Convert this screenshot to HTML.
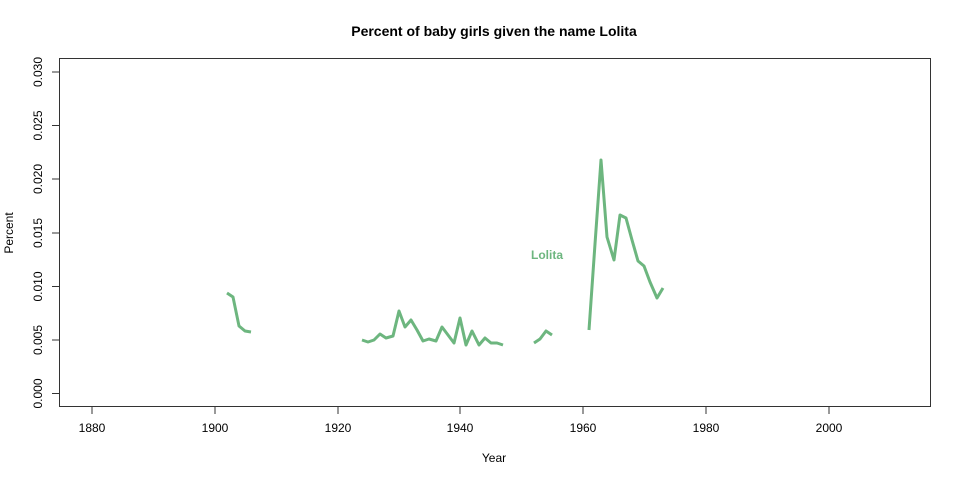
<!DOCTYPE html>
<html><head><style>body{margin:0;background:#fff}svg{display:block}text{font-family:"Liberation Sans",Arial,sans-serif}</style></head>
<body>
<svg width="960" height="480" xmlns="http://www.w3.org/2000/svg">
<text x="494" y="36" text-anchor="middle" font-size="14" font-weight="bold">Percent of baby girls given the name Lolita</text>
<rect x="59.5" y="58.5" width="871" height="348" fill="none" stroke="#333" stroke-width="1"/>
<g stroke="#333" stroke-width="1">
<line x1="92" y1="407" x2="92" y2="414"/><line x1="215" y1="407" x2="215" y2="414"/><line x1="338" y1="407" x2="338" y2="414"/><line x1="460" y1="407" x2="460" y2="414"/><line x1="583" y1="407" x2="583" y2="414"/><line x1="706" y1="407" x2="706" y2="414"/><line x1="829" y1="407" x2="829" y2="414"/>
<line x1="52" y1="393.5" x2="59" y2="393.5"/><line x1="52" y1="340" x2="59" y2="340"/><line x1="52" y1="286.5" x2="59" y2="286.5"/><line x1="52" y1="233" x2="59" y2="233"/><line x1="52" y1="179" x2="59" y2="179"/><line x1="52" y1="125.5" x2="59" y2="125.5"/><line x1="52" y1="72" x2="59" y2="72"/>
</g>
<g font-size="12" text-anchor="middle">
<text x="92" y="432">1880</text><text x="215" y="432">1900</text><text x="338" y="432">1920</text><text x="460" y="432">1940</text><text x="583" y="432">1960</text><text x="706" y="432">1980</text><text x="829" y="432">2000</text>
<text x="494" y="462">Year</text>
<text transform="translate(42,393.5) rotate(-90)">0.000</text>
<text transform="translate(42,340) rotate(-90)">0.005</text>
<text transform="translate(42,286.5) rotate(-90)">0.010</text>
<text transform="translate(42,233) rotate(-90)">0.015</text>
<text transform="translate(42,179) rotate(-90)">0.020</text>
<text transform="translate(42,125.5) rotate(-90)">0.025</text>
<text transform="translate(42,72) rotate(-90)">0.030</text>
<text transform="translate(13,233) rotate(-90)">Percent</text>
</g>
<g fill="none" stroke="#6db67f" stroke-width="3" stroke-linejoin="round">
<polyline points="227,293 233,297 239,326 245,331 251,332"/>
<polyline points="362,340 368,342 374,340 380,334 386,338 393,336 399,311 405,327 411,320 417,330 423,341 429,339 436,341 442,327 448,335 454,343 460,318 466,345 472,331 479,345 485,338 491,343 497,343 503,345"/>
<polyline points="534,343 540,339 546,331 552,335"/>
<polyline points="589,330 595,244 601,160 607,237 614,260 620,215 626,218 632,240 638,261 644,266 650,282 657,298 663,288"/>
</g>
<text x="547" y="259" text-anchor="middle" font-size="12" font-weight="bold" fill="#6db67f">Lolita</text>
</svg>
</body></html>
